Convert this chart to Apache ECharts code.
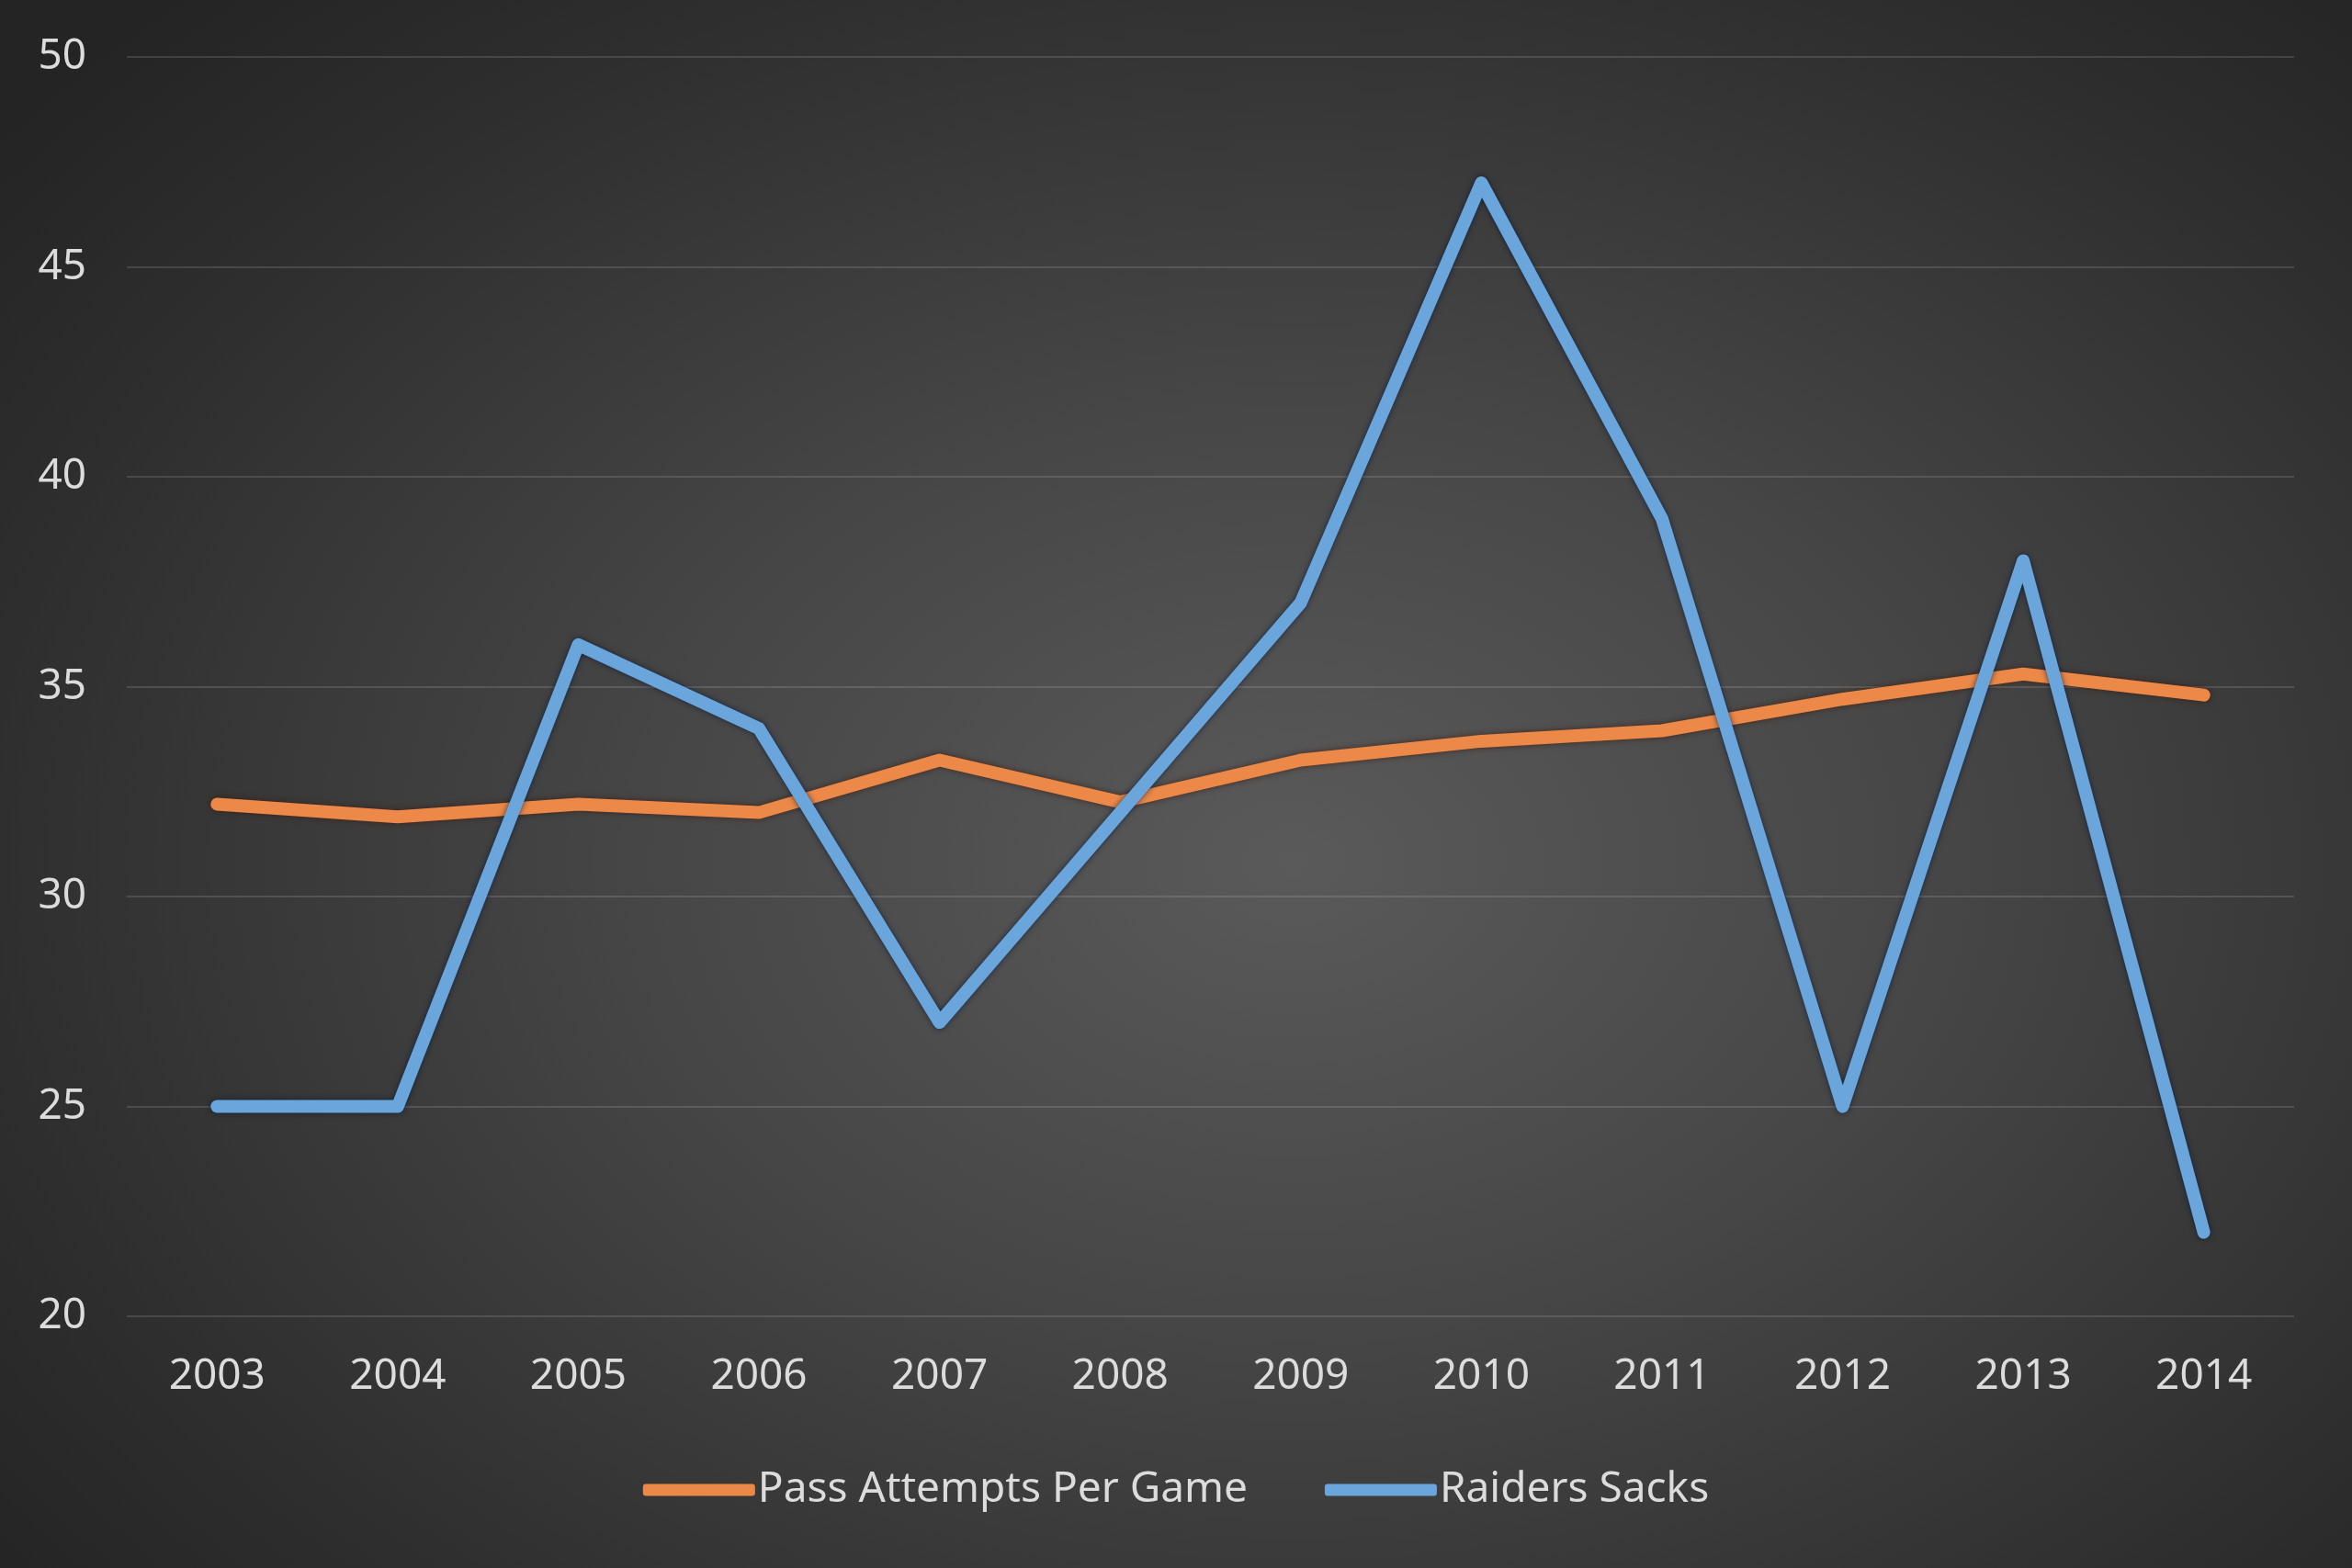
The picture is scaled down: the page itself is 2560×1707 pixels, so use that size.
<!DOCTYPE html>
<html>
<head>
<meta charset="utf-8">
<script src="https://cdn.jsdelivr.net/npm/echarts@6/dist/echarts.min.js"></script>
<style>
html,body{margin:0;padding:0;width:2560px;height:1707px;overflow:hidden;}
body{background: radial-gradient(ellipse 70% 75% at 55% 55%, #5a5a5a 0%, #464646 40%, #2e2e2e 80%, #242424 100%);}
#chart{width:2560px;height:1707px;}
</style>
</head>
<body>
<div id="chart"></div>
<script>
const years = ['2003','2004','2005','2006','2007','2008','2009','2010','2011','2012','2013','2014'];
const passAttempts = [32.2, 31.9, 32.2, 32.0, 33.25, 32.25, 33.25, 33.7, 33.95, 34.7, 35.3, 34.8];
const raidersSacks = [25, 25, 36, 34, 27, 32, 37, 47, 39, 25, 38, 22];
const yMin = 20, yMax = 50, yStep = 5;

const chart = echarts.init(document.getElementById('chart'), null, {renderer:'canvas'});
const textColor = '#dcdcdc';
const font = '"Noto Sans", "DejaVu Sans", sans-serif';
chart.setOption({
  backgroundColor: 'transparent',
  animation: false,
  grid: {left: 138, right: 63, top: 62, bottom: 274, containLabel: false},
  legend: {
    data: ['Pass Attempts Per Game', 'Raiders Sacks'],
    left: 'center',
    top: 1594,
    icon: 'roundRect',
    itemWidth: 122,
    itemHeight: 13,
    itemGap: 84,
    textStyle: {color: textColor, fontSize: 46, fontFamily: font, padding: [0,0,0,-2]}
  },
  xAxis: {
    type: 'category',
    data: years,
    boundaryGap: true,
    axisLine: {show: false},
    axisTick: {show: false},
    axisLabel: {color: textColor, fontSize: 46, fontFamily: font, margin: 43}
  },
  yAxis: {
    type: 'value',
    min: yMin, max: yMax, interval: yStep,
    axisLine: {show: false},
    axisTick: {show: false},
    splitLine: {lineStyle: {color: 'rgba(255,255,255,0.13)', width: 2}},
    axisLabel: {color: textColor, fontSize: 46, fontFamily: font, margin: 44}
  },
  series: [
    {
      name: 'Pass Attempts Per Game',
      type: 'line',
      data: passAttempts,
      symbol: 'none',
      color: '#ec8948',
      lineStyle: {width: 14, color: '#ec8948', cap: 'round', join: 'round',
        shadowColor: 'rgba(60,20,0,0.7)', shadowBlur: 6},
      itemStyle: {color: '#ec8948'}
    },
    {
      name: 'Raiders Sacks',
      type: 'line',
      data: raidersSacks,
      symbol: 'none',
      color: '#6aa5dc',
      lineStyle: {width: 14, color: '#6aa5dc', cap: 'round', join: 'round',
        shadowColor: 'rgba(0,20,50,0.7)', shadowBlur: 6},
      itemStyle: {color: '#6aa5dc'}
    }
  ]
});
</script>
</body>
</html>
